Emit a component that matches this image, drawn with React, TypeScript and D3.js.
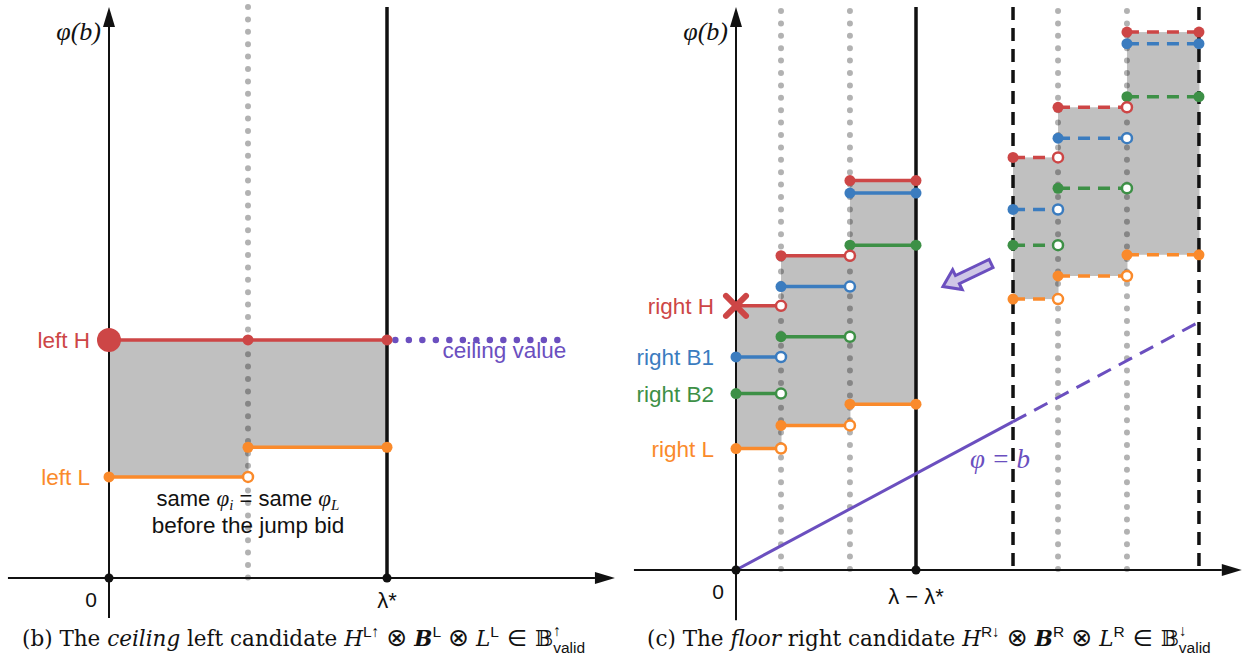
import React from "react";
import * as d3 from "d3";

// ---------- Panel (b): ceiling left candidate ----------
const leftBreaks = [0, 1, 2]; // 0, jump bid, λ*
const leftHValue = 41.7;
const leftLValues = [17.7, 22.9];
const leftCeilingRange = [2.06, 3.24];
const leftXExtent = [-0.727, 3.64];
const leftYExtent = [-7, 100];
const leftTickLabels = ["0", "λ*"];

// ---------- Panel (c): floor right candidate ----------
const rightBreaks = [0, 0.25, 0.633, 1];
const shiftedBreaks = [1.539, 1.789, 2.172, 2.572];
const rightH = [2.74, 3.26, 4.04];
const rightB1 = [2.21, 2.94, 3.91];
const rightB2 = [1.83, 2.42, 3.37];
const rightL = [1.26, 1.5, 1.72];
const shiftedH = [4.28, 4.8, 5.58];
const shiftedB1 = [3.74, 4.48, 5.46];
const shiftedB2 = [3.37, 3.96, 4.91];
const shiftedL = [2.81, 3.05, 3.27];
const rightLabels = ["right H", "right B1", "right B2", "right L"];
const diagonalB = [0, 1.539, 2.572];
const rightXExtent = [-0.567, 2.81];
const rightYExtent = [-0.52, 5.84];
const rightTickLabels = ["0", "λ − λ*"];
const shiftArrowFrom = [1.417, 3.18];
const shiftArrowTo = [1.15, 2.94];

const RED = "#cd4646";
const BLUE = "#3b7cbf";
const GREEN = "#3d9046";
const ORANGE = "#fa8a2b";
const PURPLE = "#6b4fbf";
const FILL = "#c0c0c0";
const DOT = "rgba(0,0,0,0.3)";
const SANS = "Liberation Sans, Arial, sans-serif";
const SERIF = "Liberation Serif, Times New Roman, serif";
const CAP = "DejaVu Serif, serif";
const OPS = "DejaVu Sans, DejaVu Serif, sans-serif";

const xL = d3.scaleLinear().domain([0, 2]).range([109, 387]);
const yL = d3.scaleLinear().domain([0, 100]).range([578, 7]);
const xR = d3.scaleLinear().domain([0, 1]).range([736, 916]);
const yR = d3.scaleLinear().domain([0, 1]).range([570, 473.6]);

function ArrowAxis({ x1, y1, x2, y2 }: any) {
  const ang = Math.atan2(y2 - y1, x2 - x1);
  const hl = 20, hw = 6;
  const bx = x2 - hl * Math.cos(ang), by = y2 - hl * Math.sin(ang);
  const px = -Math.sin(ang) * hw, py = Math.cos(ang) * hw;
  return (
    <g>
      <line x1={x1} y1={y1} x2={bx} y2={by} stroke="#111" strokeWidth={2} />
      <polygon points={`${x2},${y2} ${bx + px},${by + py} ${bx - px},${by - py}`} fill="#111" />
    </g>
  );
}

function Steps({ breaks, vals, color, dashed, xs, ys, firstX }: any) {
  const els: any[] = [];
  const line = d3.line<[number, number]>().x((d) => xs(d[0])).y((d) => ys(d[1]));
  vals.forEach((v: number, i: number) => {
    els.push(
      <path key={"l" + i} d={line([[breaks[i], v], [breaks[i + 1], v]]) || ""} stroke={color}
        strokeWidth={3.5} fill="none" strokeDasharray={dashed ? "12 8" : undefined} />
    );
  });
  vals.forEach((v: number, i: number) => {
    if (!(i === 0 && firstX)) {
      els.push(<circle key={"s" + i} cx={xs(breaks[i])} cy={ys(v)} r={5.5} fill={color} />);
    }
    const open = i < vals.length - 1;
    els.push(
      <circle key={"e" + i} cx={xs(breaks[i + 1])} cy={ys(v)} r={open ? 5 : 5.5}
        fill={open ? "#fff" : color} stroke={open ? color : "none"} strokeWidth={2.5} />
    );
  });
  if (firstX) {
    const cx = xs(breaks[0]), cy = ys(vals[0]);
    els.push(
      <g key="x" stroke={color} strokeWidth={6} strokeLinecap="round">
        <line x1={cx - 10} y1={cy - 10} x2={cx + 10} y2={cy + 10} />
        <line x1={cx - 10} y1={cy + 10} x2={cx + 10} y2={cy - 10} />
      </g>
    );
  }
  return <g>{els}</g>;
}

function FillSteps({ breaks, top, bottom, xs, ys }: any) {
  return (
    <g>
      {top.map((t: number, i: number) => (
        <rect key={i} x={xs(breaks[i])} y={ys(t)} width={xs(breaks[i + 1]) - xs(breaks[i]) + 0.5}
          height={ys(bottom[i]) - ys(t)} fill={FILL} />
      ))}
    </g>
  );
}

function DottedV({ x, y1, y2 }: any) {
  return <line x1={x} x2={x} y1={y1} y2={y2} stroke={DOT} strokeWidth={6}
    strokeLinecap="round" strokeDasharray="0 12.4" />;
}

function Caption({ x, y, tag, word, rest, sup1, sup2, arrow }: any) {
  const supSize = 15.5;
  const validW = 2.056 * supSize;
  return (
    <text x={x} y={y} fontFamily={CAP} fontSize={21.5} fill="#111">
      {tag} The <tspan fontStyle="italic">{word}</tspan>{rest}<tspan fontStyle="italic">H</tspan>
      <tspan fontFamily={SANS} fontSize={supSize} dy={-9}>{sup1}</tspan>
      <tspan fontFamily={OPS} fontSize={25} dx={7} dy={9}>⊗</tspan>
      <tspan fontStyle="italic" fontWeight="bold" dx={7}>B</tspan>
      <tspan fontFamily={SANS} fontSize={supSize} dy={-9}>{sup2}</tspan>
      <tspan fontFamily={OPS} fontSize={25} dx={7} dy={9}>⊗</tspan>
      <tspan fontStyle="italic" dx={7}>L</tspan>
      <tspan fontFamily={SANS} fontSize={supSize} dy={-9}>{sup2}</tspan>
      <tspan fontFamily={OPS} fontSize={23} dx={8} dy={9}>∈</tspan>
      <tspan dx={8}>𝔹</tspan>
      <tspan fontFamily={SANS} fontSize={supSize} dy={7}>valid</tspan>
      <tspan fontFamily={SANS} fontSize={supSize} dx={-validW} dy={-17}>{arrow}</tspan>
    </text>
  );
}

export default function App() {
  const lTop = yL(leftYExtent[1]);
  const lBase = yL(0);
  const rTop = yR(rightYExtent[1]);
  const rBase = yR(0);

  const rightSeries = [rightH, rightB1, rightB2, rightL];
  const shiftedSeries = [shiftedH, shiftedB1, shiftedB2, shiftedL];
  const colors = [RED, BLUE, GREEN, ORANGE];

  const ax0 = xR(shiftArrowFrom[0]), ay0 = yR(shiftArrowFrom[1]);
  const ax1 = xR(shiftArrowTo[0]), ay1 = yR(shiftArrowTo[1]);
  const aLen = Math.hypot(ax1 - ax0, ay1 - ay0);
  const aAng = (Math.atan2(ay1 - ay0, ax1 - ax0) * 180) / Math.PI;
  const hl = 16, hw = 11, sw = 4.5;
  const arrowPts = [[0, 0], [-hl, hw], [-hl, sw], [-aLen, sw], [-aLen, -sw], [-hl, -sw], [-hl, -hw]]
    .map((p) => p.join(",")).join(" ");

  return (
    <svg width={1251} height={665} style={{ position: "absolute", left: 0, top: 0, background: "#fff" }}>
      {/* ================= LEFT PANEL ================= */}
      <FillSteps breaks={leftBreaks} top={[leftHValue, leftHValue]} bottom={leftLValues} xs={xL} ys={yL} />
      <DottedV x={xL(leftBreaks[1])} y1={lTop} y2={lBase} />
      <line x1={xL(leftBreaks[2])} x2={xL(leftBreaks[2])} y1={lTop} y2={lBase} stroke="#111" strokeWidth={3.5} />
      <ArrowAxis x1={xL(leftXExtent[0])} y1={lBase} x2={xL(leftXExtent[1])} y2={lBase} />
      <ArrowAxis x1={xL(0)} y1={yL(leftYExtent[0])} x2={xL(0)} y2={lTop} />
      <circle cx={xL(0)} cy={lBase} r={4.5} fill="#111" />
      <circle cx={xL(leftBreaks[2])} cy={lBase} r={4.5} fill="#111" />

      <line x1={xL(leftCeilingRange[0])} x2={xL(leftCeilingRange[1])} y1={yL(leftHValue)} y2={yL(leftHValue)}
        stroke={PURPLE} strokeWidth={6.5} strokeLinecap="round" strokeDasharray="0 13.5" />
      <line x1={xL(0)} x2={xL(2)} y1={yL(leftHValue)} y2={yL(leftHValue)} stroke={RED} strokeWidth={3.5} />
      <circle cx={xL(0)} cy={yL(leftHValue)} r={12} fill={RED} />
      <circle cx={xL(1)} cy={yL(leftHValue)} r={5.5} fill={RED} />
      <circle cx={xL(2)} cy={yL(leftHValue)} r={5.5} fill={RED} />
      <Steps breaks={leftBreaks} vals={leftLValues} color={ORANGE} xs={xL} ys={yL} />

      <text x={xL(0) - 19} y={yL(leftHValue) + 8} textAnchor="end" fontFamily={SANS} fontSize={22.5} fill={RED}>left H</text>
      <text x={xL(0) - 19} y={yL(leftLValues[0]) + 8} textAnchor="end" fontFamily={SANS} fontSize={22.5} fill={ORANGE}>left L</text>
      <text x={xL(leftCeilingRange[1]) + 7} y={yL(leftHValue) + 18} textAnchor="end" fontFamily={SANS} fontSize={22.5} fill={PURPLE}>ceiling value</text>

      <text x={xL(1)} y={506} textAnchor="middle" fontFamily={SANS} fontSize={22} fill="#111">
        same <tspan fontFamily={SERIF} fontStyle="italic" fontSize={23}>φ</tspan>
        <tspan fontFamily={SERIF} fontStyle="italic" fontSize={15} dy={4}>i</tspan>
        <tspan dy={-4}> = same </tspan>
        <tspan fontFamily={SERIF} fontStyle="italic" fontSize={23}>φ</tspan>
        <tspan fontFamily={SERIF} fontStyle="italic" fontSize={15} dy={4}>L</tspan>
      </text>
      <text x={xL(1)} y={533} textAnchor="middle" fontFamily={SANS} fontSize={22.5} fill="#111">before the jump bid</text>

      <text x={xL(0) - 18} y={607} textAnchor="middle" fontFamily={SANS} fontSize={21} fill="#111">{leftTickLabels[0]}</text>
      <text x={xL(2)} y={608} textAnchor="middle" fontFamily={SANS} fontSize={22} fill="#111">{leftTickLabels[1]}</text>
      <text x={xL(0) - 8} y={40} textAnchor="end" fontFamily={SERIF} fontStyle="italic" fontSize={26} fill="#111">φ(b)</text>

      <Caption x={22} y={646} tag="(b)" word="ceiling" rest=" left candidate " sup1="L↑" sup2="L" arrow="↑" />

      {/* ================= RIGHT PANEL ================= */}
      <FillSteps breaks={rightBreaks} top={rightH} bottom={rightL} xs={xR} ys={yR} />
      <FillSteps breaks={shiftedBreaks} top={shiftedH} bottom={shiftedL} xs={xR} ys={yR} />
      {[rightBreaks[1], rightBreaks[2], shiftedBreaks[1], shiftedBreaks[2]].map((b, i) => (
        <DottedV key={i} x={xR(b)} y1={rTop + 4} y2={rBase} />
      ))}
      <line x1={xR(rightBreaks[3])} x2={xR(rightBreaks[3])} y1={rTop} y2={rBase} stroke="#111" strokeWidth={3.5} />
      {[shiftedBreaks[0], shiftedBreaks[3]].map((b, i) => (
        <line key={i} x1={xR(b)} x2={xR(b)} y1={rTop} y2={rBase} stroke="#111" strokeWidth={3.5} strokeDasharray="13 8" />
      ))}
      <ArrowAxis x1={xR(rightXExtent[0])} y1={rBase} x2={xR(rightXExtent[1])} y2={rBase} />
      <ArrowAxis x1={xR(0)} y1={yR(rightYExtent[0])} x2={xR(0)} y2={rTop} />

      <line x1={xR(diagonalB[0])} y1={yR(diagonalB[0])} x2={xR(diagonalB[1])} y2={yR(diagonalB[1])} stroke={PURPLE} strokeWidth={3} />
      <line x1={xR(diagonalB[1])} y1={yR(diagonalB[1])} x2={xR(diagonalB[2])} y2={yR(diagonalB[2])} stroke={PURPLE} strokeWidth={3} strokeDasharray="15 9" />

      <circle cx={xR(0)} cy={rBase} r={4.5} fill="#111" />
      <circle cx={xR(1)} cy={rBase} r={4.5} fill="#111" />

      {rightSeries.slice().reverse().map((vals, ri) => {
        const i = rightSeries.length - 1 - ri;
        return <Steps key={"r" + i} breaks={rightBreaks} vals={vals} color={colors[i]} xs={xR} ys={yR} firstX={i === 0} />;
      })}
      {shiftedSeries.slice().reverse().map((vals, ri) => {
        const i = shiftedSeries.length - 1 - ri;
        return <Steps key={"s" + i} breaks={shiftedBreaks} vals={vals} color={colors[i]} xs={xR} ys={yR} dashed />;
      })}

      {rightLabels.map((lab, i) => (
        <text key={lab} x={xR(0) - 22} y={yR(rightSeries[i][0]) + 8} textAnchor="end" fontFamily={SANS} fontSize={22.5} fill={colors[i]}>{lab}</text>
      ))}

      <polygon points={arrowPts} transform={`translate(${ax1},${ay1}) rotate(${aAng})`}
        fill="#cfc7e6" stroke={PURPLE} strokeWidth={3} strokeLinejoin="miter" />

      <text x={1000} y={468} textAnchor="middle" fontFamily={SERIF} fontStyle="italic" fontSize={27} fill={PURPLE}>φ = b</text>

      <text x={xR(0) - 18} y={599} textAnchor="middle" fontFamily={SANS} fontSize={21} fill="#111">{rightTickLabels[0]}</text>
      <text x={xR(1)} y={604} textAnchor="middle" fontFamily={SANS} fontSize={22} fill="#111">{rightTickLabels[1]}</text>
      <text x={xR(0) - 8} y={40} textAnchor="end" fontFamily={SERIF} fontStyle="italic" fontSize={26} fill="#111">φ(b)</text>

      <Caption x={647} y={646} tag="(c)" word="floor" rest=" right candidate " sup1="R↓" sup2="R" arrow="↓" />
    </svg>
  );
}
